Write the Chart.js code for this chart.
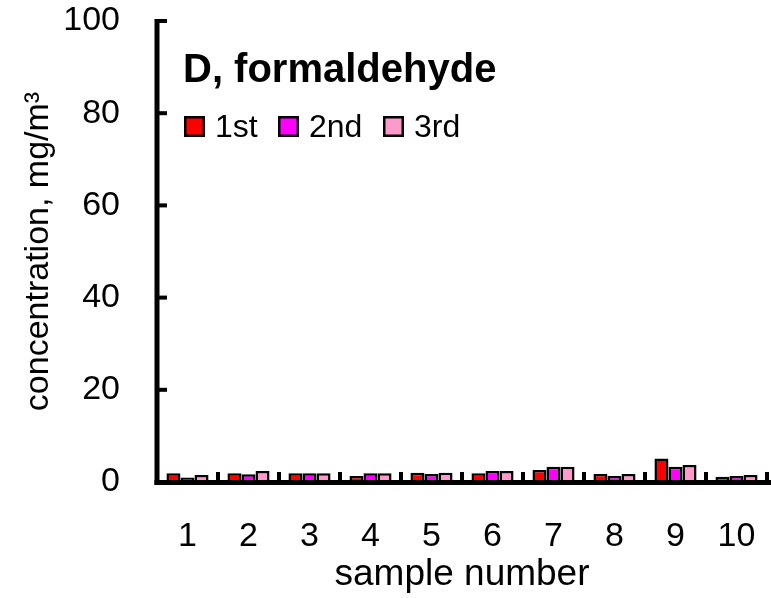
<!DOCTYPE html>
<html>
<head>
<meta charset="utf-8">
<script src="https://cdn.jsdelivr.net/npm/chart.js@4.4.1/dist/chart.umd.min.js"></script>
<style>
html,body{margin:0;padding:0;background:#fff;}
#wrap{width:771px;height:598px;position:relative;}
</style>
</head>
<body>
<div id="wrap"><canvas id="c" width="771" height="598"></canvas></div>
<script>
const categories = ['1','2','3','4','5','6','7','8','9','10'];
const first  = [1.9, 1.9, 1.9, 1.3, 2.0, 1.9, 2.6, 1.75, 5.1, 1.15];
const second = [1.0, 1.7, 1.9, 1.9, 1.75, 2.4, 3.3, 1.3, 3.3, 1.3];
const third  = [1.5, 2.4, 1.9, 1.9, 2.0, 2.4, 3.3, 1.75, 3.7, 1.5];
const yTicks = [0, 20, 40, 60, 80, 100];
const seriesNames = ['1st', '2nd', '3rd'];
const seriesColors = ['#FF0000', '#FF00FF', '#FF99CC'];
const chartTitle = 'D, formaldehyde';
const yTitle = 'concentration, mg/m³';
const xTitle = 'sample number';

const FONT = "'Liberation Sans', Arial, sans-serif";

const decor = {
  id: 'decor',
  afterDatasetsDraw(chart) {
    const ctx = chart.ctx;
    const x = chart.scales.x, y = chart.scales.y;
    const a = chart.chartArea;
    ctx.save();
    ctx.fillStyle = '#000';
    const top = y.getPixelForValue(100);
    // y axis line
    ctx.fillRect(a.left - 2.5, top - 2, 5, a.bottom - top + 5);
    // x axis line
    ctx.fillRect(a.left - 2.5, a.bottom - 2, 771 - a.left + 3, 5);
    // y ticks (inward)
    yTicks.forEach(v => {
      const py = y.getPixelForValue(v);
      ctx.fillRect(a.left, py - 2, 10, 4);
    });
    // x ticks between categories (inward)
    for (let i = 0; i <= categories.length; i++) {
      let px;
      if (i === 0) px = a.left;
      else if (i === categories.length) px = a.right;
      else px = (x.getPixelForValue(i - 1) + x.getPixelForValue(i)) / 2;
      ctx.fillRect(px - 2, a.bottom - 10, 4, 10);
    }
    // title
    ctx.font = "bold 40px " + FONT;
    ctx.textBaseline = 'alphabetic';
    ctx.textAlign = 'left';
    ctx.fillText(chartTitle, 183, 82);
    // legend
    const legX = [184, 278, 383];
    ctx.font = "32px " + FONT;
    ctx.textBaseline = 'middle';
    seriesNames.forEach((n, i) => {
      ctx.fillStyle = '#000';
      ctx.fillRect(legX[i], 116, 21, 21);
      ctx.fillStyle = seriesColors[i];
      ctx.fillRect(legX[i] + 2.5, 118.5, 16, 16);
      ctx.fillStyle = '#000';
      ctx.fillText(n, legX[i] + 31, 128);
    });
    ctx.restore();
  }
};

const mk = (label, data, color) => ({
  label, data, backgroundColor: color, borderColor: '#000', borderWidth: 2.5,
  barPercentage: 1.0, categoryPercentage: 0.69
});

new Chart(document.getElementById('c'), {
  type: 'bar',
  data: {
    labels: categories,
    datasets: [
      mk(seriesNames[0], first, seriesColors[0]),
      mk(seriesNames[1], second, seriesColors[1]),
      mk(seriesNames[2], third, seriesColors[2])
    ]
  },
  options: {
    responsive: false,
    animation: false,
    devicePixelRatio: 1,
    layout: { padding: { top: 21, right: 4, left: 0, bottom: 0 } },
    plugins: { legend: { display: false }, tooltip: { enabled: false } },
    scales: {
      x: {
        grid: { display: false, drawTicks: false },
        border: { display: false },
        ticks: { color: '#000', font: { family: FONT, size: 34 }, padding: 34, maxRotation: 0 },
        title: { display: true, text: xTitle, color: '#000', font: { family: FONT, size: 37 }, padding: { top: 0, bottom: 1 } },
        afterFit: s => { s.height = 598 - 482; s.paddingLeft = 0; s.paddingRight = 0; }
      },
      y: {
        min: 0, max: 100,
        afterBuildTicks: s => { s.ticks = yTicks.map(v => ({ value: v })); },
        grid: { display: false, drawTicks: false },
        border: { display: false },
        ticks: { color: '#000', font: { family: FONT, size: 34 }, padding: 37 },
        title: { display: true, text: yTitle, color: '#000', font: { family: FONT, size: 34 }, padding: { top: 18, bottom: 0 } },
        afterFit: s => { s.width = 157; s.paddingTop = 0; s.paddingBottom = 0; }
      }
    }
  },
  plugins: [decor]
});
</script>
</body>
</html>
